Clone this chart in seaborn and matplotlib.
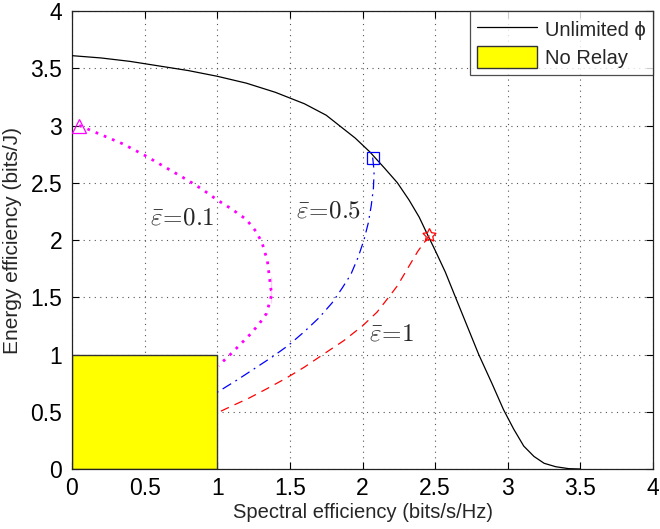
import numpy as np
import pandas as pd
import matplotlib
matplotlib.use("Agg")
import matplotlib.pyplot as plt
import seaborn as sns
from matplotlib.patches import Patch
from matplotlib.lines import Line2D

# ---- data ----
unl_x = [0.0, 0.2, 0.4, 0.6, 0.8, 1.0, 1.2, 1.4, 1.6, 1.75, 1.84, 1.95, 2.05, 2.15, 2.24,
         2.32, 2.39, 2.45, 2.5, 2.57, 2.64, 2.72, 2.8, 2.89, 2.97, 3.04, 3.11, 3.18, 3.25,
         3.33, 3.42, 3.5]
unl_y = [3.61, 3.59, 3.56, 3.52, 3.48, 3.43, 3.37, 3.29, 3.19, 3.09, 3.0, 2.89, 2.77, 2.63, 2.5,
         2.35, 2.2, 2.04, 1.91, 1.72, 1.5, 1.25, 1.0, 0.75, 0.52, 0.35, 0.2, 0.11, 0.05,
         0.02, 0.003, 0.0]

e01_x = [0.05, 0.2, 0.35, 0.5, 0.65, 0.8, 0.9, 1.0, 1.1, 1.2, 1.27, 1.31, 1.345, 1.37, 1.38,
         1.37, 1.34, 1.29, 1.23, 1.16, 1.09, 1.04, 1.01]
e01_y = [3.0, 2.92, 2.84, 2.74, 2.63, 2.52, 2.44, 2.35, 2.27, 2.18, 2.07, 1.97, 1.82, 1.68, 1.55,
         1.45, 1.36, 1.27, 1.18, 1.09, 1.0, 0.94, 0.9]

e05_x = [2.07, 2.08, 2.075, 2.06, 2.04, 2.01, 1.97, 1.92, 1.86, 1.79, 1.7, 1.6, 1.49, 1.38,
         1.26, 1.14, 1.0]
e05_y = [2.72, 2.6, 2.45, 2.3, 2.15, 2.0, 1.85, 1.7, 1.58, 1.45, 1.32, 1.2, 1.08, 0.98,
         0.88, 0.78, 0.67]

e1_x = [2.46, 2.38, 2.31, 2.24, 2.18, 2.1, 2.0, 1.87, 1.74, 1.6, 1.47, 1.34, 1.22, 1.1, 1.0]
e1_y = [2.04, 1.9, 1.75, 1.6, 1.5, 1.37, 1.25, 1.12, 1.01, 0.89, 0.79, 0.7, 0.62, 0.55, 0.49]

norelay_se = [0.0]
norelay_width = [1.0]
norelay_ee = [1.0]

ticks = [0, 0.5, 1, 1.5, 2, 2.5, 3, 3.5, 4]
tick_labels = ["0", "0.5", "1", "1.5", "2", "2.5", "3", "3.5", "4"]

labels = [r"$\bar{\varepsilon}\!=\!0.1$", r"$\bar{\varepsilon}\!=\!0.5$", r"$\bar{\varepsilon}\!=\!1$"]
label_x = [0.76, 1.77, 2.2]
label_y = [2.2, 2.26, 1.18]

# ---- style ----
sns.set_style("ticks")
plt.rcParams["font.family"] = ["Liberation Sans", "DejaVu Sans"]
plt.rcParams["mathtext.fontset"] = "cm"

fig = plt.figure(figsize=(6.6, 5.29), dpi=100)
ax = fig.add_axes([0.109, 0.1134, 0.8805, 0.8658])

# No relay box
ax.bar(norelay_se, norelay_ee, width=norelay_width, align="edge", color="#ffff00",
       edgecolor="#333333", linewidth=1.0, zorder=2)

df_u = pd.DataFrame({"x": unl_x, "y": unl_y})
sns.lineplot(data=df_u, x="x", y="y", sort=False, color="black", linewidth=0.9, ax=ax, zorder=3)

df1 = pd.DataFrame({"x": e01_x, "y": e01_y})
sns.lineplot(data=df1, x="x", y="y", sort=False, color="#ff00ff", linewidth=2.0,
             linestyle=(0, (1, 2.2)), ax=ax, zorder=3)
df2 = pd.DataFrame({"x": e05_x, "y": e05_y})
sns.lineplot(data=df2, x="x", y="y", sort=False, color="#0000ff", linewidth=0.9,
             linestyle=(0, (8, 4, 1.5, 4)), ax=ax, zorder=3)
df3 = pd.DataFrame({"x": e1_x, "y": e1_y})
sns.lineplot(data=df3, x="x", y="y", sort=False, color="#ff0000", linewidth=0.9,
             linestyle=(0, (7, 5)), ax=ax, zorder=3)

# end markers
ax.plot(e01_x[:1], e01_y[:1], marker="^", markersize=10, markerfacecolor="none",
        markeredgecolor="#ff00ff", markeredgewidth=0.9, linestyle="none", zorder=4)
ax.plot(e05_x[:1], e05_y[:1], marker="s", markersize=8, markerfacecolor="none",
        markeredgecolor="#0000ff", markeredgewidth=0.9, linestyle="none", zorder=4)
ax.plot(e1_x[:1], e1_y[:1], marker=(5, 1, 0), markersize=10, markerfacecolor="none",
        markeredgecolor="#ff0000", markeredgewidth=0.9, linestyle="none", zorder=4)

for t, x, y in zip(labels, label_x, label_y):
    ax.text(x, y, t, fontsize=18, ha="center", va="center", zorder=5)

ax.set_xlim(0, 4)
ax.set_ylim(0, 4)
ax.set_xticks(ticks)
ax.set_xticklabels(tick_labels)
ax.set_yticks(ticks)
ax.set_yticklabels(tick_labels)
ax.tick_params(direction="in", top=True, right=True, length=5, width=0.8,
               labelsize=16.5, colors="black")
ax.tick_params(axis="x", pad=6)
ax.tick_params(axis="y", pad=7)
ax.grid(True, linestyle=(0, (1, 4)), color="#555555", linewidth=0.8)
ax.set_axisbelow(True)
for s in ax.spines.values():
    s.set_color("#222222")
    s.set_linewidth(0.9)
    s.set_visible(True)

ax.set_xlabel("Spectral efficiency (bits/s/Hz)", fontsize=14.5, labelpad=2)
ax.set_ylabel("Energy efficiency (bits/J)", fontsize=15, labelpad=6)

handles = [Line2D([0], [0], color="black", linewidth=0.9),
           Patch(facecolor="#ffff00", edgecolor="#333333", linewidth=1.0)]
leg = ax.legend(handles, ["Unlimited ϕ", "No Relay"], loc="upper right", fontsize=14.5,
                frameon=True, fancybox=False, borderaxespad=0, handlelength=3.0,
                handleheight=1.3, borderpad=0.35, labelspacing=0.3, handletextpad=0.4)
leg.get_frame().set_edgecolor("#222222")
leg.get_frame().set_linewidth(0.9)

fig.savefig("out.png", dpi=100)
